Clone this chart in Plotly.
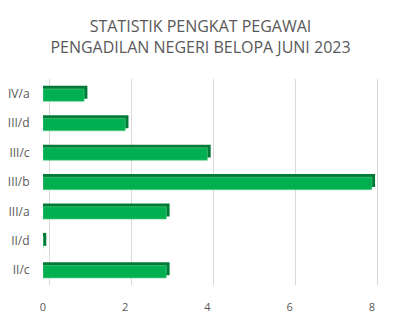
import plotly.graph_objects as go

categories = ["II/c", "II/d", "III/a", "III/b", "III/c", "III/d", "IV/a"]
values = [3, 0, 3, 8, 4, 2, 1]
x_ticks = [0, 2, 4, 6, 8]

depth = 0.08  # 3D side depth (style)
front_color = "#00B050"
side_color = "#007A37"
text_color = "#595959"

fig = go.Figure()

# dark "side/top" bar, shifted up and extended right for 3D look
fig.add_trace(go.Bar(
    y=categories, x=[v + depth for v in values], orientation="h",
    marker=dict(color=side_color, line=dict(width=0)),
    width=0.44, offset=-0.17, hoverinfo="skip", showlegend=False,
))
# front face
fig.add_trace(go.Bar(
    y=categories, x=values, orientation="h",
    marker=dict(color=front_color, line=dict(color="#5BD08A", width=0.6)),
    width=0.42, offset=-0.26, showlegend=False,
))
# invisible trace to hold back-wall gridline axis
fig.add_trace(go.Scatter(x=[0], y=[categories[0]], xaxis="x2", mode="markers",
                         marker=dict(opacity=0), hoverinfo="skip", showlegend=False))

fig.update_layout(
    width=401, height=317,
    margin=dict(l=43, r=21, t=79, b=32, autoexpand=False),
    paper_bgcolor="white", plot_bgcolor="white",
    barmode="overlay",
    title=dict(
        text="STATISTIK PENGKAT PEGAWAI<br>PENGADILAN NEGERI BELOPA JUNI 2023",
        x=0.5, xanchor="center", yref="container", y=1 - 32 / 317, yanchor="middle",
        font=dict(family="Open Sans", size=16, color=text_color),
    ),
    font=dict(family="Open Sans", size=11, color=text_color),
    xaxis=dict(range=[0, 8.2], tickvals=x_ticks, showgrid=False, zeroline=False,
               showline=False, ticks="outside", ticklen=12, tickcolor="rgba(0,0,0,0)",
               automargin=False, tickfont=dict(size=11, color=text_color)),
    xaxis2=dict(range=[-0.146, 8.054], overlaying="x", tickvals=x_ticks,
                showgrid=True, gridcolor="#D9D9D9", gridwidth=1, zeroline=False,
                showticklabels=False, showline=False, ticks="", automargin=False),
    yaxis=dict(range=[-0.5, 6.5], showgrid=False, zeroline=False, showline=False,
               ticks="outside", ticklen=10, tickcolor="rgba(0,0,0,0)",
               automargin=False, tickfont=dict(size=12, color=text_color)),
)

fig.write_html("out.html")
